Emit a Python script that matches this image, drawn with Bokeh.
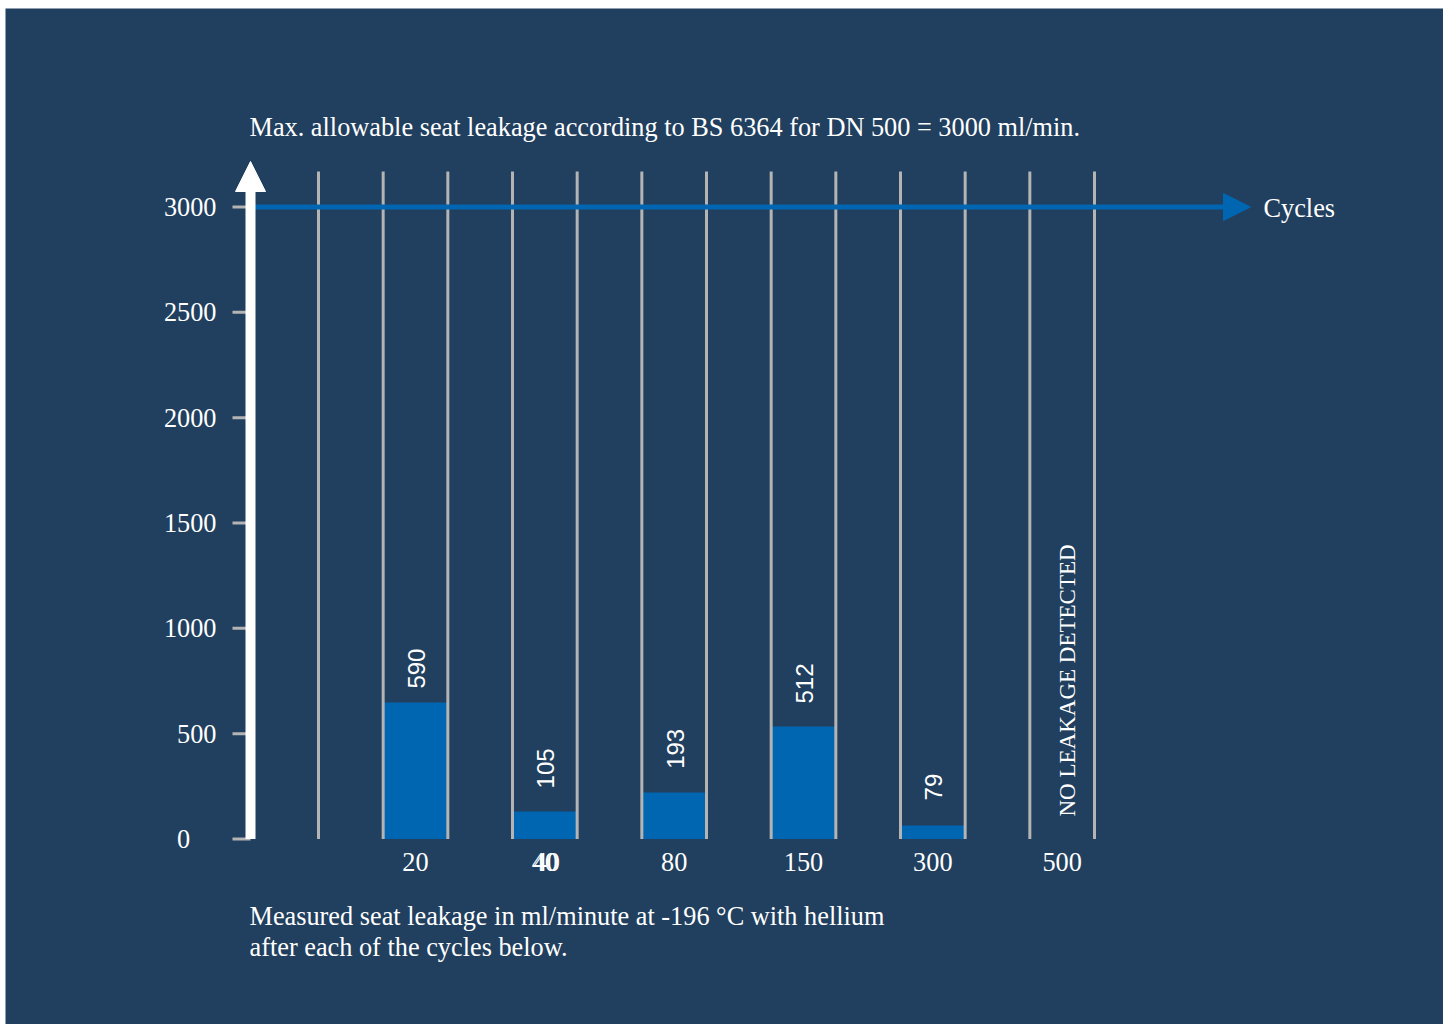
import numpy as np
from bokeh.plotting import figure
from bokeh.models import Range1d, Arrow, NormalHead
from bokeh.core.properties import value
from bokeh.embed import file_html
from bokeh.resources import INLINE

# ---------------- data ----------------
cycles = ["20", "40", "80", "150", "300", "500"]
leakage_labels = ["590", "105", "193", "512", "79"]
bar_heights = [648, 130, 221, 534, 64]          # heights as drawn in the reference
label_anchor = [714, 240, 333, 643, 183]        # where each value label starts
y_ticks = [0, 500, 1000, 1500, 2000, 2500, 3000]
y_tick_labels = ["0\u2007\u2007", "500", "1000", "1500", "2000", "2500", "3000"]
limit_value = 3000
title_text = "Max. allowable seat leakage according to BS 6364 for DN 500 = 3000 ml/min."
caption_lines = ["Measured seat leakage in ml/minute at -196 °C with hellium",
                 "after each of the cycles below."]
no_leak_text = "NO LEAKAGE DETECTED"
axis_name = "Cycles"

# ---------------- layout constants (page pixels) ----------------
OX, OY = 5, 8
W, H = 1443 - OX, 1024 - OY
PX0, LANE = 318.0, 776.0 / 12.0      # first lane boundary, lane width
PY0, SCALE = 838.5, 632.0 / 3000.0   # y of value 0, pixels per unit

def dx(px):
    return (px - PX0) / LANE

def dy(py):
    return (PY0 - py) / SCALE

NAVY = "#213f5e"
BLUE = "#0066b2"
GREY = "#b4b4b4"
WHITE = "#ffffff"
SERIF = value("Liberation Serif")
FS = "26.3px"

p = figure(width=W, height=H,
           x_range=Range1d(dx(OX), dx(1443)),
           y_range=Range1d(dy(1024), dy(OY)),
           x_axis_type=None, y_axis_type=None,
           output_backend="svg", toolbar_location=None,
           min_border_left=0, min_border_right=0,
           min_border_top=0, min_border_bottom=0)
p.margin = (OY, 5, 0, OX)
p.background_fill_color = NAVY
p.border_fill_color = NAVY
p.outline_line_color = None
p.grid.visible = False

n = len(cycles)
centers = [2 * i + 1.5 for i in range(n)]

# bars
p.vbar(x=centers[:len(bar_heights)], top=bar_heights, bottom=0, width=1.0,
       fill_color=BLUE, line_color=None)

# lane boundary lines
bounds = list(range(2 * n + 1))
p.segment(x0=bounds, y0=[0] * len(bounds), x1=bounds, y1=[dy(171)] * len(bounds),
          line_color=GREY, line_width=3)

# y axis ticks and labels
nt = len(y_ticks)
p.segment(x0=[dx(232)] * nt, y0=y_ticks, x1=[dx(250)] * nt, y1=y_ticks,
          line_color=GREY, line_width=3)
p.text(x=[dx(216)] * nt, y=y_ticks, text=y_tick_labels, text_align="right",
       text_baseline="middle", text_font=SERIF, text_font_size=FS,
       text_color=WHITE)

# value labels (rotated)
p.text(x=centers[:len(leakage_labels)], y=label_anchor, text=leakage_labels,
       angle=np.pi / 2, text_align="left", text_baseline="middle",
       text_font=value("Liberation Sans"), text_font_size="24px",
       text_color=WHITE, x_offset=1)

# no leakage text
p.text(x=[centers[-1]], y=[dy(816)], text=[no_leak_text], angle=np.pi / 2,
       text_align="left", text_baseline="middle", x_offset=5,
       text_font=SERIF, text_font_size="23px", text_color=WHITE)

# category labels
p.text(x=centers, y=[dy(861)] * n, text=cycles, text_align="center",
       text_baseline="middle", text_font=SERIF, text_font_size=FS,
       text_color=WHITE)
# the doubled "40"
p.text(x=[centers[1]], y=[dy(861)], text=[cycles[1]], text_align="center",
       text_baseline="middle", text_font=SERIF, text_font_size=FS,
       text_color=WHITE, x_offset=2)

# title & caption
p.text(x=[dx(249)], y=[dy(127)], text=[title_text], text_align="left",
       text_baseline="middle", text_font=SERIF, text_font_size=FS,
       text_color=WHITE)
p.text(x=[dx(249)] * 2, y=[dy(916), dy(947)], text=caption_lines,
       text_align="left", text_baseline="middle", text_font=SERIF,
       text_font_size=FS, text_color=WHITE)
p.text(x=[dx(1263)], y=[dy(208)], text=[axis_name], text_align="left",
       text_baseline="middle", text_font=SERIF, text_font_size=FS,
       text_color=WHITE)

# horizontal limit arrow
p.add_layout(Arrow(x_start=dx(250), y_start=limit_value, x_end=dx(1250), y_end=limit_value,
                   line_color=BLUE, line_width=5,
                   end=NormalHead(size=27, fill_color=BLUE, line_color=BLUE, line_width=1)))
# vertical axis arrow
p.add_layout(Arrow(x_start=dx(250), y_start=0, x_end=dx(250), y_end=dy(161),
                   line_color=WHITE, line_width=10,
                   end=NormalHead(size=30, fill_color=WHITE, line_color=WHITE, line_width=1)))

open("out.html", "w").write(file_html(p, INLINE))
